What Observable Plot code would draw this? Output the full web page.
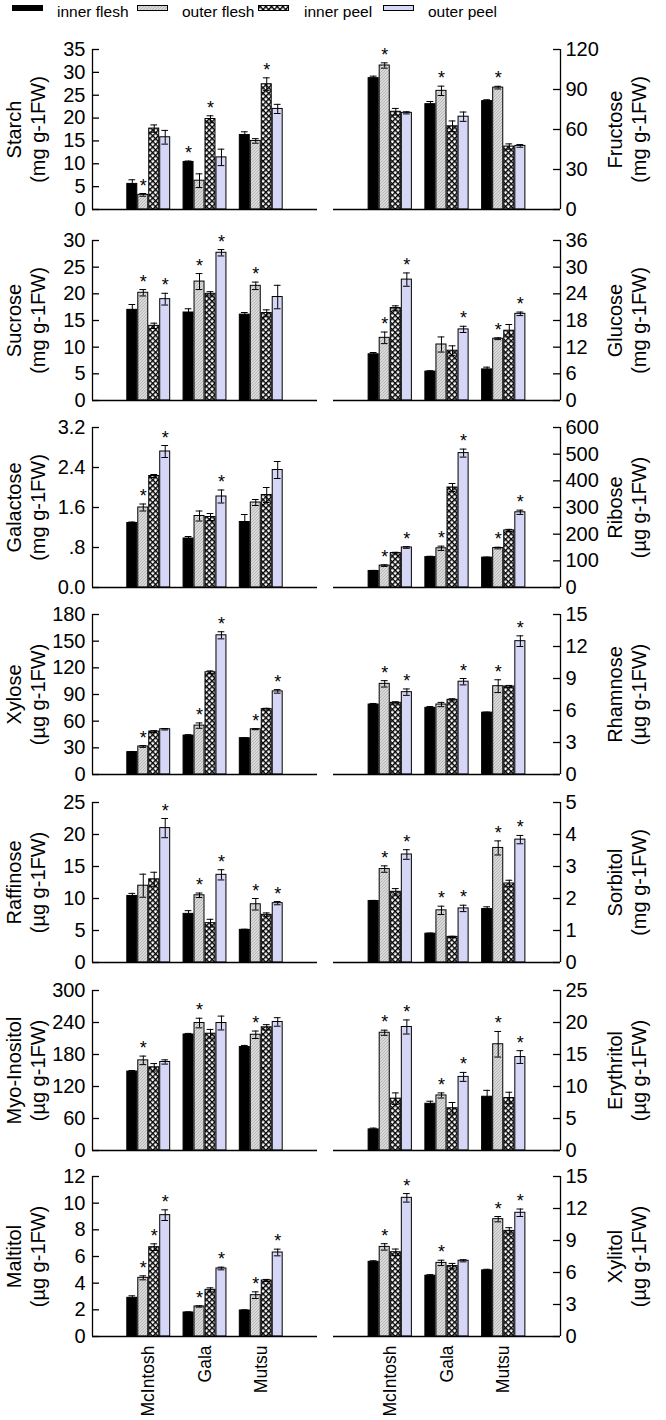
<!DOCTYPE html>
<html><head><meta charset="utf-8">
<script src="https://cdn.jsdelivr.net/npm/d3@7"></script>
<script src="https://cdn.jsdelivr.net/npm/@observablehq/plot@0.6"></script>
<style>
body{margin:0;background:#fff;font-family:Arial,"Liberation Sans",sans-serif;}
#wrap{position:relative;width:666px;height:1420px;overflow:hidden;background:#fff;}
#wrap > svg{position:absolute;}
</style></head><body>
<svg width="0" height="0" style="position:absolute;left:0;top:0">
 <defs>
  <pattern id="hatchGray" patternUnits="userSpaceOnUse" width="3" height="3">
   <rect width="3" height="3" fill="#d9d9d9"/>
   <path d="M0,3L3,0M-1,1L1,-1M2,4L4,2" stroke="#a9a9a9" stroke-width="0.7"/>
  </pattern>
  <pattern id="cross" patternUnits="userSpaceOnUse" width="4" height="4" patternTransform="rotate(45)">
   <rect width="4" height="4" fill="#fff"/>
   <rect x="0" y="0" width="1.4" height="4" fill="#000"/>
   <rect x="0" y="0" width="4" height="1.4" fill="#000"/>
  </pattern>
 </defs>
</svg>
<div id="wrap"></div>
<script>
const cultivars = ["McIntosh", "Gala", "Mutsu"];
const tissues = ["inner flesh", "outer flesh", "inner peel", "outer peel"];
const fills = ["#000000", "url(#hatchGray)", "url(#cross)", "#d6d6f6"];

// values [cultivar][tissue]
const starch = [[5.6,3.2,17.7,15.8],[10.4,6.3,19.8,11.4],[16.3,15.0,27.4,22.0]];
const starchErr = [[0.9,0.3,0.8,1.5],[0.2,1.5,0.7,1.8],[0.7,0.5,1.4,1.0]];
const starchSig = [[0,1,0,0],[1,0,1,0],[0,0,1,0]];
const starchTicks = [0,5,10,15,20,25,30,35];

const fructose = [[98.5,108,73.3,72.5],[79,89,62.4,69.6],[81.3,91.4,47.2,47.7]];
const fructoseErr = [[1.5,2,2.5,0.8],[2,3.5,4,3.5],[1,1,2,1]];
const fructoseSig = [[0,1,0,0],[0,1,0,0],[0,1,0,0]];
const fructoseTicks = [0,30,60,90,120];

const sucrose = [[17.0,20.2,14.0,19.0],[16.5,22.3,20.0,27.7],[16.1,21.5,16.4,19.4]];
const sucroseErr = [[1.0,0.6,0.5,1.1],[0.7,1.5,0.4,0.6],[0.4,0.7,0.6,2.2]];
const sucroseSig = [[0,1,0,1],[0,1,0,1],[0,1,0,0]];
const sucroseTicks = [0,5,10,15,20,25,30];

const glucose = [[10.4,14.1,20.8,27.2],[6.5,12.6,11.2,16.0],[7.0,13.9,15.7,19.5]];
const glucoseErr = [[0.4,1.3,0.5,1.5],[0.2,1.7,1.1,0.7],[0.5,0.2,1.4,0.4]];
const glucoseSig = [[0,1,0,1],[0,0,0,1],[0,1,0,1]];
const glucoseTicks = [0,6,12,18,24,30,36];

const galactose = [[1.29,1.60,2.23,2.72],[0.98,1.43,1.41,1.82],[1.31,1.70,1.85,2.35]];
const galactoseErr = [[0.02,0.07,0.03,0.12],[0.04,0.1,0.07,0.13],[0.15,0.06,0.15,0.17]];
const galactoseSig = [[0,1,0,1],[0,0,0,1],[0,0,0,0]];
const galactoseTicks = [0,0.8,1.6,2.4,3.2];
const galactoseTickLabels = ["0.0",".8","1.6","2.4","3.2"];

const ribose = [[62,82,129,150],[114,147,375,504],[112,148,214,282]];
const riboseErr = [[2,3,3,3],[3,8,15,15],[2,3,4,8]];
const riboseSig = [[0,1,0,1],[0,1,0,1],[0,1,0,1]];
const riboseTicks = [0,100,200,300,400,500,600];

const xylose = [[25.2,31.5,48.3,50.9],[43.8,55,115,156.6],[40.8,50.9,73.5,93.5]];
const xyloseErr = [[0.5,1,1,0.8],[1,3,1.5,4],[0.5,0.5,1,2]];
const xyloseSig = [[0,1,0,0],[0,1,0,1],[0,1,0,1]];
const xyloseTicks = [0,30,60,90,120,150,180];

const rhamnose = [[6.56,8.5,6.72,7.72],[6.25,6.56,7.0,8.7],[5.8,8.28,8.25,12.5]];
const rhamnoseErr = [[0.1,0.3,0.1,0.3],[0.12,0.2,0.1,0.3],[0.05,0.6,0.1,0.5]];
const rhamnoseSig = [[0,1,0,1],[0,0,0,1],[0,1,0,1]];
const rhamnoseTicks = [0,3,6,9,12,15];

const raffinose = [[10.4,12.0,13.0,21.0],[7.6,10.5,6.15,13.7],[5.1,9.1,7.45,9.27]];
const raffinoseErr = [[0.4,1.8,1.1,1.5],[0.5,0.35,0.6,0.8],[0.1,0.9,0.3,0.25]];
const raffinoseSig = [[0,0,0,1],[0,1,0,1],[0,1,0,1]];
const raffinoseTicks = [0,5,10,15,20,25];

const sorbitol = [[1.92,2.92,2.21,3.375],[0.9,1.63,0.8,1.69],[1.67,3.58,2.47,3.84]];
const sorbitolErr = [[0.02,0.1,0.1,0.15],[0.02,0.13,0.02,0.1],[0.07,0.22,0.1,0.13]];
const sorbitolSig = [[0,1,0,1],[0,1,0,1],[0,1,0,1]];
const sorbitolTicks = [0,1,2,3,4,5];

const myoInositol = [[148,169,156,166],[217.5,239,219,239],[194,217,231,241]];
const myoInositolErr = [[2,8,7,4],[2,9,8,13],[3,7,5,8]];
const myoInositolSig = [[0,1,0,0],[0,1,0,0],[0,1,0,0]];
const myoInositolTicks = [0,60,120,180,240,300];

const erythritol = [[3.3,18.4,8.1,19.3],[7.3,8.6,6.6,11.5],[8.4,16.6,8.2,14.6]];
const erythritolErr = [[0.2,0.4,0.9,1.1],[0.4,0.4,0.9,0.7],[1.0,2.0,0.9,1.0]];
const erythritolSig = [[0,1,0,1],[0,1,0,1],[0,1,0,1]];
const erythritolTicks = [0,5,10,15,20,25];

const maltitol = [[2.9,4.4,6.7,9.1],[1.8,2.25,3.5,5.1],[1.95,3.1,4.2,6.3]];
const maltitolErr = [[0.15,0.15,0.25,0.4],[0.05,0.05,0.15,0.1],[0.05,0.25,0.08,0.25]];
const maltitolSig = [[0,1,1,1],[0,1,0,1],[0,1,0,1]];
const maltitolTicks = [0,2,4,6,8,10,12];

const xylitol = [[7.0,8.4,7.9,13.0],[5.7,6.9,6.6,7.1],[6.2,11.0,9.9,11.6]];
const xylitolErr = [[0.1,0.3,0.3,0.4],[0.1,0.25,0.25,0.1],[0.1,0.25,0.3,0.35]];
const xylitolSig = [[0,1,0,1],[0,1,0,0],[0,1,0,1]];
const xylitolTicks = [0,3,6,9,12,15];

const panels = [
  {name:"Starch", unit:"mg", v:starch, e:starchErr, s:starchSig, ticks:starchTicks, row:0, side:"left"},
  {name:"Fructose", unit:"mg", v:fructose, e:fructoseErr, s:fructoseSig, ticks:fructoseTicks, row:0, side:"right"},
  {name:"Sucrose", unit:"mg", v:sucrose, e:sucroseErr, s:sucroseSig, ticks:sucroseTicks, row:1, side:"left"},
  {name:"Glucose", unit:"mg", v:glucose, e:glucoseErr, s:glucoseSig, ticks:glucoseTicks, row:1, side:"right"},
  {name:"Galactose", unit:"mg", v:galactose, e:galactoseErr, s:galactoseSig, ticks:galactoseTicks, labels:galactoseTickLabels, row:2, side:"left"},
  {name:"Ribose", unit:"µg", v:ribose, e:riboseErr, s:riboseSig, ticks:riboseTicks, row:2, side:"right"},
  {name:"Xylose", unit:"µg", v:xylose, e:xyloseErr, s:xyloseSig, ticks:xyloseTicks, row:3, side:"left"},
  {name:"Rhamnose", unit:"µg", v:rhamnose, e:rhamnoseErr, s:rhamnoseSig, ticks:rhamnoseTicks, row:3, side:"right"},
  {name:"Raffinose", unit:"µg", v:raffinose, e:raffinoseErr, s:raffinoseSig, ticks:raffinoseTicks, row:4, side:"left"},
  {name:"Sorbitol", unit:"mg", v:sorbitol, e:sorbitolErr, s:sorbitolSig, ticks:sorbitolTicks, row:4, side:"right"},
  {name:"Myo-Inositol", unit:"µg", v:myoInositol, e:myoInositolErr, s:myoInositolSig, ticks:myoInositolTicks, row:5, side:"left"},
  {name:"Erythritol", unit:"µg", v:erythritol, e:erythritolErr, s:erythritolSig, ticks:erythritolTicks, row:5, side:"right"},
  {name:"Maltitol", unit:"µg", v:maltitol, e:maltitolErr, s:maltitolSig, ticks:maltitolTicks, row:6, side:"left"},
  {name:"Xylitol", unit:"µg", v:xylitol, e:xylitolErr, s:xylitolSig, ticks:xylitolTicks, row:6, side:"right"}
];

const wrap = document.getElementById("wrap");
const FONT = 'Arial, "Liberation Sans", sans-serif';

// legend
(function(){
  const ns = "http://www.w3.org/2000/svg";
  const svg = document.createElementNS(ns, "svg");
  svg.setAttribute("width", 666); svg.setAttribute("height", 30);
  svg.style.left = "0px"; svg.style.top = "0px";
  const sx = [12.5, 137.5, 258.5, 383.5], tx = [57, 182, 304, 428];
  tissues.forEach((t, i) => {
    const r = document.createElementNS(ns, "rect");
    r.setAttribute("x", sx[i]); r.setAttribute("y", 5.5);
    r.setAttribute("width", 30); r.setAttribute("height", 5);
    r.setAttribute("fill", fills[i]); r.setAttribute("stroke", "#000");
    svg.appendChild(r);
    const tt = document.createElementNS(ns, "text");
    tt.setAttribute("x", tx[i]); tt.setAttribute("y", 16.5);
    tt.setAttribute("font-size", 15.5); tt.setAttribute("font-family", FONT);
    tt.textContent = t;
    svg.appendChild(tt);
  });
  wrap.appendChild(svg);
})();

const rowTops = [49, 240, 427, 614, 802, 990, 1176];
const FH = 160, MT = 16, W = 333;
const GW = 0.78, BW = GW / 4;
const xLeft = d => d.ci + 1 - GW / 2 + d.ti * BW;
const xMid = d => d.ci + 1 - GW / 2 + (d.ti + 0.5) * BW;
const cap = 0.06;

panels.forEach(p => {
  const data = [];
  cultivars.forEach((c, ci) => tissues.forEach((t, ti) => {
    data.push({cultivar: c, tissue: t, ci, ti, v: p.v[ci][ti], e: p.e[ci][ti], sig: p.s[ci][ti]});
  }));
  const ymax = p.ticks[p.ticks.length - 1];
  const left = p.side === "left";
  const bottom = p.row === 6;
  const MB = bottom ? 90 : 8;
  const mL = left ? 92 : 0, mR = left ? 16 : 106;
  const plotW = W - mL - mR;
  const labelMap = new Map(p.ticks.map((t, i) => [t, p.labels ? p.labels[i] : String(t)]));
  const marks = [];
  tissues.forEach((t, ti) => {
    marks.push(Plot.rectY(data.filter(d => d.ti === ti), {
      x1: xLeft, x2: d => xLeft(d) + BW, y1: 0, y2: "v",
      fill: fills[ti], stroke: "#000", strokeWidth: 1, insetLeft: 0.5, insetRight: 0.5
    }));
  });
  marks.push(
    Plot.ruleX(data, {x: xMid, y1: d => d.v - d.e, y2: d => d.v + d.e, stroke: "#000", strokeWidth: 1}),
    Plot.ruleY(data, {y: d => d.v + d.e, x1: d => xMid(d) - cap, x2: d => xMid(d) + cap, stroke: "#000", strokeWidth: 1}),
    Plot.ruleY(data, {y: d => d.v - d.e, x1: d => xMid(d) - cap, x2: d => xMid(d) + cap, stroke: "#000", strokeWidth: 1}),
    Plot.text(data.filter(d => d.sig), {x: xMid, y: d => d.v + d.e, text: () => "*", lineAnchor: "bottom", dy: -2, fontSize: 18, fill: "#000"}),
    Plot.ruleY([0], {stroke: "#000", strokeWidth: 1.3}),
    Plot.ruleX([left ? 0 : 4], {y1: 0, y2: ymax, stroke: "#000", strokeWidth: 1.3}),
    Plot.ruleY(p.ticks, {y: d => d, stroke: "#000", strokeWidth: 1.3, insetLeft: left ? 0 : plotW - 7, insetRight: left ? plotW - 7 : 0}),
    Plot.axisY(p.ticks, {anchor: left ? "left" : "right", tickSize: 0, tickPadding: left ? 7 : 5, tickFormat: d => labelMap.get(d), fontSize: 20, label: null}),
    Plot.text([p.name + "\n(" + p.unit + " g-1FW)"], {text: d => d, frameAnchor: left ? "left" : "right", textAnchor: "middle", lineAnchor: "middle", rotate: -90, dx: left ? -67 : 66, lineHeight: 1.2, fontSize: 20, fill: "#000"})
  );
  if (bottom) {
    marks.push(Plot.axisX([1, 2, 3], {anchor: "bottom", tickSize: 0, tickPadding: 9, tickRotate: -90, tickFormat: d => cultivars[d - 1], fontSize: 17.5, label: null}));
  }
  const chart = Plot.plot({
    width: W, height: MT + FH + MB,
    marginTop: MT, marginBottom: MB, marginLeft: mL, marginRight: mR,
    x: {domain: [0, 4], axis: null},
    y: {domain: [0, ymax], axis: null},
    style: {fontFamily: FONT, fontSize: "18px", color: "#000", background: "transparent", overflow: "visible"},
    marks
  });
  chart.style.left = (left ? 0 : 333) + "px";
  chart.style.top = (rowTops[p.row] - MT) + "px";
  wrap.appendChild(chart);
});
</script>
</body></html>
